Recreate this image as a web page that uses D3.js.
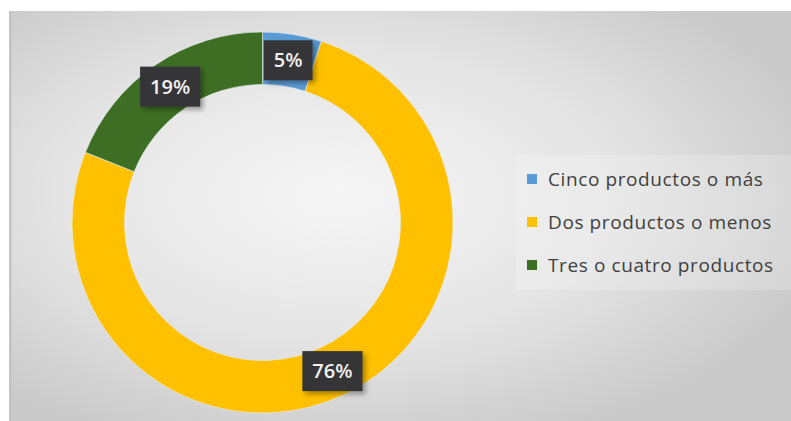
<!DOCTYPE html>
<html>
<head>
<meta charset="utf-8">
<script src="https://cdn.jsdelivr.net/npm/d3@7"></script>
<style>
  body { margin: 0; background: #fff; }
  svg { display: block; }
</style>
</head>
<body>
<script>
// chart data
var categories = ["Cinco productos o más", "Dos productos o menos", "Tres o cuatro productos"];
var values = [5, 76, 19];
var colors = ["#5b9bd5", "#ffc000", "#3e6e23"];

var width = 791, height = 421;

var svg = d3.select("body")
  .append("svg")
  .attr("width", width)
  .attr("height", height);

var defs = svg.append("defs");

// background gradient (light in the middle, grey at the edges)
var grad = defs.append("radialGradient")
  .attr("id", "bg")
  .attr("cx", "42%").attr("cy", "45%")
  .attr("r", "65%");
grad.append("stop").attr("offset", "0%").attr("stop-color", "#f6f6f6");
grad.append("stop").attr("offset", "55%").attr("stop-color", "#e4e4e4");
grad.append("stop").attr("offset", "100%").attr("stop-color", "#c9c9c9");

var shadow = defs.append("filter").attr("id", "shadow")
  .attr("x", "-30%").attr("y", "-30%").attr("width", "160%").attr("height", "160%");
shadow.append("feDropShadow")
  .attr("dx", 3).attr("dy", 3).attr("stdDeviation", 2.5)
  .attr("flood-color", "#000").attr("flood-opacity", 0.35);

svg.append("rect")
  .attr("x", 9).attr("y", 11)
  .attr("width", width - 9).attr("height", height - 11)
  .attr("fill", "url(#bg)");
svg.append("rect")
  .attr("x", 9).attr("y", 11)
  .attr("width", 2.5).attr("height", height - 11)
  .attr("fill", "#c4c4c4");

// donut
var cx = 262.5, cy = 222.5;
var outerR = 190.5, innerR = 138;

var pie = d3.pie().sort(null).value(function(d) { return d; });
var arcs = pie(values);

var arc = d3.arc().innerRadius(innerR).outerRadius(outerR);
var labelArc = d3.arc().innerRadius((innerR + outerR) / 2).outerRadius((innerR + outerR) / 2);

var g = svg.append("g").attr("transform", "translate(" + cx + "," + cy + ")");

g.selectAll("path.slice")
  .data(arcs)
  .enter().append("path")
    .attr("class", "slice")
    .attr("d", arc)
    .attr("fill", function(d, i) { return colors[i]; })
    .attr("stroke", "#e8eef5")
    .attr("stroke-width", 0.6);

// data labels
var labels = g.selectAll("g.lbl")
  .data(arcs)
  .enter().append("g")
    .attr("class", "lbl")
    .attr("transform", function(d) {
      var c = labelArc.centroid(d);
      return "translate(" + c[0] + "," + c[1] + ")";
    });

labels.append("text")
  .attr("text-anchor", "middle")
  .attr("dy", "0.36em")
  .style("font-family", "'Open Sans', 'Noto Sans', sans-serif")
  .style("font-weight", 600)
  .style("font-size", "20px")
  .style("fill", "#f2f2f2")
  .text(function(d) { return d.data + "%"; });

labels.each(function() {
  var t = d3.select(this).select("text");
  var bb = t.node().getBBox();
  d3.select(this).insert("rect", "text")
    .attr("x", bb.x - 10).attr("y", -20)
    .attr("width", bb.width + 20).attr("height", 40)
    .attr("fill", "#363638")
    .attr("filter", "url(#shadow)");
});

// legend
var legend = svg.append("g").attr("transform", "translate(516,155)");
legend.append("rect")
  .attr("width", 275).attr("height", 135)
  .attr("fill", "#ffffff").attr("opacity", 0.2);

var item = legend.selectAll("g.item")
  .data(categories)
  .enter().append("g")
    .attr("class", "item")
    .attr("transform", function(d, i) { return "translate(11," + (24 + i * 43) + ")"; });

item.append("rect")
  .attr("x", 0).attr("y", -5)
  .attr("width", 10).attr("height", 10)
  .attr("fill", function(d, i) { return colors[i]; });

item.append("text")
  .attr("x", 21)
  .attr("dy", "0.35em")
  .style("font-family", "'Open Sans', 'Noto Sans', sans-serif")
  .style("font-size", "19px")
  .style("letter-spacing", "0.6px")
  .style("fill", "#404040")
  .text(function(d) { return d; });
</script>
</body>
</html>
